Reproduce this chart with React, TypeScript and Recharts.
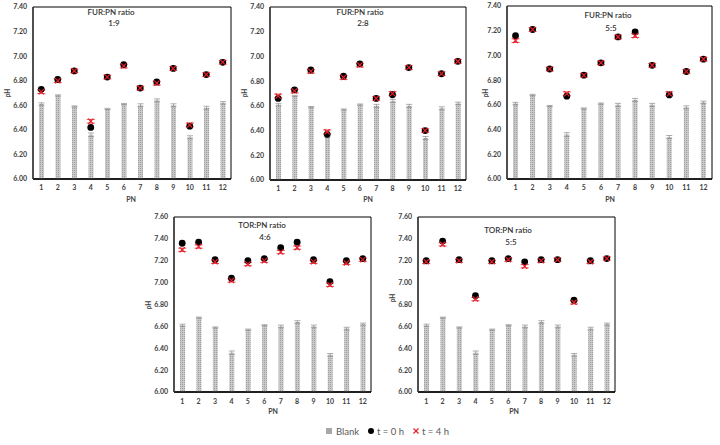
import React from 'react';
import { ComposedChart, Bar, Scatter, XAxis, YAxis, ErrorBar, ReferenceArea } from 'recharts';

const categories = ['1', '2', '3', '4', '5', '6', '7', '8', '9', '10', '11', '12'];
const blank = [6.61, 6.68, 6.59, 6.36, 6.57, 6.61, 6.6, 6.64, 6.6, 6.34, 6.58, 6.62];
const blankErr = [0.01, 0.005, 0.005, 0.015, 0.005, 0.005, 0.012, 0.012, 0.012, 0.012, 0.012, 0.01];

const fur19T0 = [6.73, 6.81, 6.88, 6.42, 6.83, 6.93, 6.74, 6.79, 6.9, 6.43, 6.85, 6.95];
const fur19T4 = [6.71, 6.8, 6.88, 6.47, 6.83, 6.92, 6.74, 6.78, 6.9, 6.44, 6.85, 6.95];
const fur28T0 = [6.66, 6.73, 6.89, 6.37, 6.84, 6.94, 6.66, 6.69, 6.91, 6.4, 6.86, 6.96];
const fur28T4 = [6.68, 6.72, 6.88, 6.39, 6.83, 6.93, 6.66, 6.7, 6.91, 6.4, 6.86, 6.96];
const fur55T0 = [7.16, 7.21, 6.89, 6.67, 6.84, 6.94, 7.15, 7.19, 6.92, 6.68, 6.87, 6.97];
const fur55T4 = [7.12, 7.21, 6.89, 6.69, 6.84, 6.94, 7.15, 7.16, 6.92, 6.69, 6.87, 6.97];
const tor46T0 = [7.36, 7.37, 7.21, 7.04, 7.2, 7.22, 7.32, 7.37, 7.21, 7.01, 7.2, 7.22];
const tor46T4 = [7.3, 7.33, 7.19, 7.02, 7.17, 7.2, 7.28, 7.32, 7.19, 6.98, 7.18, 7.21];
const tor55T0 = [7.2, 7.38, 7.21, 6.88, 7.2, 7.22, 7.19, 7.21, 7.21, 6.84, 7.2, 7.22];
const tor55T4 = [7.19, 7.35, 7.2, 6.85, 7.19, 7.21, 7.15, 7.2, 7.21, 6.82, 7.19, 7.22];
const t4Err = 0.015;

const topTicks = [6.0, 6.2, 6.4, 6.6, 6.8, 7.0, 7.2, 7.4];
const bottomTicks = [6.0, 6.2, 6.4, 6.6, 6.8, 7.0, 7.2, 7.4, 7.6];

const FONT = 'Lato, "Liberation Sans", sans-serif';

function buildData(t0: number[], t4: number[]) {
  return categories.map((c, i) => ({
    pn: c,
    blank: blank[i],
    blankErr: blankErr[i],
    t0: t0[i],
    t4: t4[i],
    t4Err: t4Err,
  }));
}

const Dot = (props: any) => {
  const { cx, cy } = props;
  if (cx == null || cy == null) return null;
  return <circle cx={cx} cy={cy} r={3.4} fill="#000" />;
};

const Cross = (props: any) => {
  const { cx, cy } = props;
  if (cx == null || cy == null) return null;
  const s = 2.6;
  return (
    <g stroke="#e8202a" strokeWidth={1.2}>
      <line x1={cx - s} y1={cy - s} x2={cx + s} y2={cy + s} />
      <line x1={cx - s} y1={cy + s} x2={cx + s} y2={cy - s} />
    </g>
  );
};

type PanelProps = {
  id: string;
  x0: number;
  x1: number;
  y0: number;
  y1: number;
  ymax: number;
  ticks: number[];
  t0: number[];
  t4: number[];
  xTickGap: number;
};

const W = 720;
const H = 445;

function Panel({ id, x0, x1, y0, y1, ymax, ticks, t0, t4, xTickGap }: PanelProps) {
  const data = buildData(t0, t4);
  const yW = 30;
  const xH = 20;
  return (
    <div style={{ position: 'absolute', left: 0, top: 0 }}>
      <ComposedChart
        width={W}
        height={H}
        data={data}
        margin={{ left: x0 - yW, right: W - x1, top: y0, bottom: H - y1 - xH }}
      >
        <defs>
          <pattern id={`pat-${id}`} width="2" height="2" patternUnits="userSpaceOnUse">
            <rect width="2" height="2" fill="#c8c8c8" />
            <rect width="1" height="1" fill="#a0a0a0" />
          </pattern>
        </defs>
        <XAxis
          dataKey="pn"
          type="category"
          height={xH}
          tickLine={false}
          tickSize={xTickGap}
          tickMargin={2}
          axisLine={{ stroke: '#000', strokeWidth: 1.5 }}
          tick={{ fontSize: 7, fontWeight: 700, fill: '#404040', fontFamily: FONT }}
          interval={0}
        />
        <YAxis
          type="number"
          domain={[6, ymax]}
          ticks={ticks}
          width={yW}
          tickLine={false}
          tickSize={4}
          tickMargin={2}
          axisLine={{ stroke: '#404040', strokeWidth: 1.5 }}
          tick={{ fontSize: 7, fontWeight: 700, fill: '#404040', fontFamily: FONT }}
          tickFormatter={(v: number) => v.toFixed(2)}
          allowDataOverflow
        />
        <ReferenceArea y1={6} y2={ymax} fill="none" stroke="#000" strokeWidth={1} ifOverflow="visible" />
        <Bar dataKey="blank" barSize={5} fill={`url(#pat-${id})`} isAnimationActive={false}>
          <ErrorBar dataKey="blankErr" width={3} stroke="#8a8a8a" strokeWidth={0.7} direction="y" />
        </Bar>
        <Scatter dataKey="t0" shape={<Dot />} isAnimationActive={false} />
        <Scatter dataKey="t4" shape={<Cross />} isAnimationActive={false}>
          <ErrorBar dataKey="t4Err" width={4} stroke="#e8202a" strokeWidth={0.8} direction="y" />
        </Scatter>
      </ComposedChart>
    </div>
  );
}

const titles = [
  { x: 111, y1: 15, y2: 26, a: 'FUR:PN ratio', b: '1:9' },
  { x: 360, y1: 15, y2: 26, a: 'FUR:PN ratio', b: '2:8' },
  { x: 608, y1: 18, y2: 31, a: 'FUR:PN ratio', b: '5:5' },
  { x: 262, y1: 228, y2: 240, a: 'TOR:PN ratio', b: '4:6' },
  { x: 508, y1: 233, y2: 245, a: 'TOR:PN ratio', b: '5:5' },
];
const phLabels = [
  { x: 7, y: 93 },
  { x: 244, y: 93 },
  { x: 485, y: 93 },
  { x: 148, y: 305 },
  { x: 392, y: 298 },
];
const pnLabels = [
  { x: 131, y: 202 },
  { x: 368, y: 202 },
  { x: 610, y: 202 },
  { x: 273, y: 414 },
  { x: 514, y: 414 },
];

export default function App() {
  return (
    <div style={{ position: 'absolute', left: 0, top: 0, width: W, height: H, background: '#fff', overflow: 'hidden' }}>
      <Panel id="p1" x0={33} x1={231} y0={7} y1={179} ymax={7.4} ticks={topTicks} t0={fur19T0} t4={fur19T4} xTickGap={4} />
      <Panel id="p2" x0={270} x1={466} y0={7} y1={180} ymax={7.4} ticks={topTicks} t0={fur28T0} t4={fur28T4} xTickGap={4} />
      <Panel id="p3" x0={507} x1={712} y0={6} y1={179} ymax={7.4} ticks={topTicks} t0={fur55T0} t4={fur55T4} xTickGap={4} />
      <Panel id="p4" x0={174} x1={371} y0={217} y1={392} ymax={7.6} ticks={bottomTicks} t0={tor46T0} t4={tor46T4} xTickGap={5} />
      <Panel id="p5" x0={418} x1={615} y0={217} y1={392} ymax={7.6} ticks={bottomTicks} t0={tor55T0} t4={tor55T4} xTickGap={5} />
      <svg width={W} height={H} style={{ position: 'absolute', left: 0, top: 0, pointerEvents: 'none' }}>
        {titles.map((t, i) => (
          <g key={i} fontFamily={FONT} fontSize={8} fontWeight={600} fill="#333" textAnchor="middle">
            <text x={t.x} y={t.y1}>{t.a}</text>
            <text x={t.x + 3} y={t.y2}>{t.b}</text>
          </g>
        ))}
        {phLabels.map((p, i) => (
          <text key={i} x={p.x} y={p.y} transform={`rotate(-90 ${p.x} ${p.y})`} textAnchor="middle" dominantBaseline="central" fontFamily={FONT} fontSize={6.5} fontWeight={700} fill="#404040">pH</text>
        ))}
        {pnLabels.map((p, i) => (
          <text key={i} x={p.x} y={p.y} textAnchor="middle" fontFamily={FONT} fontSize={7} fontWeight={700} fill="#404040">PN</text>
        ))}
        <g fontFamily={FONT} fontSize={9.5} fill="#595959">
          <rect x={326} y={428} width={6} height={6} fill="#a8a8a8" />
          <text x={336} y={435}>Blank</text>
          <circle cx={371} cy={431} r={3} fill="#000" />
          <text x={377} y={435}>t = 0 h</text>
          <g stroke="#e8202a" strokeWidth={1.2}>
            <line x1={413.5} y1={428.5} x2={418.5} y2={433.5} />
            <line x1={413.5} y1={433.5} x2={418.5} y2={428.5} />
          </g>
          <text x={422} y={435}>t = 4 h</text>
        </g>
      </svg>
    </div>
  );
}
